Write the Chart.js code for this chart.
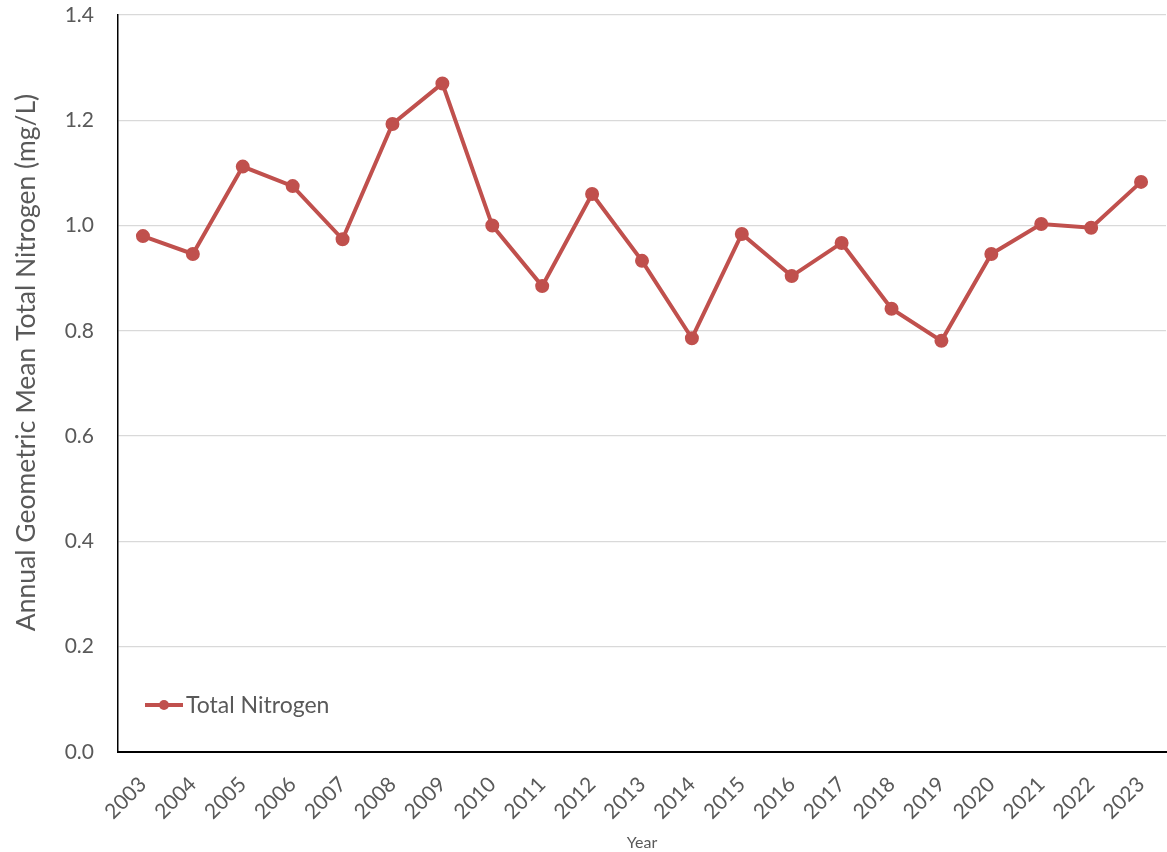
<!DOCTYPE html>
<html>
<head>
<meta charset="utf-8">
<script src="https://cdn.jsdelivr.net/npm/chart.js@4"></script>
<style>
    html, body { margin: 0; padding: 0; background: #fff; overflow: hidden; }
    #wrap { width: 1175px; height: 852px; }
</style>
</head>
<body>
<div id="wrap"><canvas id="chart"></canvas></div>
<script>
// DATA
const years = ['2003', '2004', '2005', '2006', '2007', '2008', '2009', '2010', '2011', '2012', '2013',
               '2014', '2015', '2016', '2017', '2018', '2019', '2020', '2021', '2022', '2023'];
const totalNitrogen = [0.980, 0.946, 1.112, 1.075, 0.974, 1.193, 1.270, 1.000, 0.885, 1.060, 0.933,
                       0.786, 0.984, 0.904, 0.967, 0.842, 0.781, 0.946, 1.003, 0.996, 1.083];

const LINE_COLOR = '#C0504D';
const TEXT_COLOR = '#595959';
const FONT = 'Lato, "Liberation Sans", sans-serif';
const Y_TITLE = 'Annual Geometric Mean Total Nitrogen (mg/L)';

// legend drawn inside the plot, bottom left, and the y title
const extras = {
    id: 'extras',
    afterDraw(chart) {
        const ctx = chart.ctx;
        const area = chart.chartArea;
        const y = area.bottom - 47;
        const x0 = area.left + 27;
        ctx.save();
        ctx.strokeStyle = LINE_COLOR;
        ctx.lineWidth = 4;
        ctx.beginPath();
        ctx.moveTo(x0, y);
        ctx.lineTo(x0 + 38, y);
        ctx.stroke();
        ctx.fillStyle = LINE_COLOR;
        ctx.beginPath();
        ctx.arc(x0 + 19, y, 5, 0, Math.PI * 2);
        ctx.fill();
        ctx.fillStyle = TEXT_COLOR;
        ctx.font = '23px ' + FONT;
        ctx.textBaseline = 'middle';
        ctx.fillText('Total Nitrogen', x0 + 41, y + 1);

        // y axis title, slightly above the plot centre like the original
        ctx.translate(26, area.top + (area.bottom - area.top) / 2 - 21);
        ctx.rotate(-Math.PI / 2);
        ctx.textAlign = 'center';
        ctx.font = '26.5px ' + FONT;
        ctx.fillText(Y_TITLE, 0, 0);
        ctx.restore();
    }
};

new Chart(document.getElementById('chart'), {
    type: 'line',
    data: {
        labels: years,
        datasets: [{
            label: 'Total Nitrogen',
            data: totalNitrogen,
            borderColor: LINE_COLOR,
            backgroundColor: LINE_COLOR,
            borderWidth: 4,
            pointRadius: 5,
            pointHoverRadius: 5,
            tension: 0
        }]
    },
    options: {
        responsive: true,
        maintainAspectRatio: false,
        animation: false,
        layout: { padding: { top: 15, left: 0, right: 0, bottom: 0 } },
        plugins: {
            legend: { display: false },
            tooltip: { enabled: false }
        },
        scales: {
            x: {
                offset: true,
                afterFit: s => { s.height = 100; s.paddingLeft = 0; s.paddingRight = 0; },
                grid: { display: false, drawTicks: false },
                border: { color: '#000', width: 2 },
                ticks: {
                    color: TEXT_COLOR,
                    font: { family: FONT, size: 21 },
                    minRotation: 45,
                    maxRotation: 45,
                    padding: 20
                },
                title: {
                    display: true,
                    text: 'Year',
                    color: TEXT_COLOR,
                    font: { family: FONT, size: 16 },
                    padding: { top: 0, bottom: 0 }
                }
            },
            y: {
                min: 0,
                max: 1.4,
                afterFit: s => { s.width = 118; s.paddingTop = 0; s.paddingBottom = 0; },
                grid: { color: '#d9d9d9', lineWidth: 1.3, drawTicks: false },
                border: { color: '#000', width: 1.5 },
                ticks: {
                    stepSize: 0.2,
                    color: TEXT_COLOR,
                    font: { family: FONT, size: 21 },
                    padding: 24,
                    callback: v => v.toFixed(1)
                }
            }
        }
    },
    plugins: [extras]
});
</script>
</body>
</html>
